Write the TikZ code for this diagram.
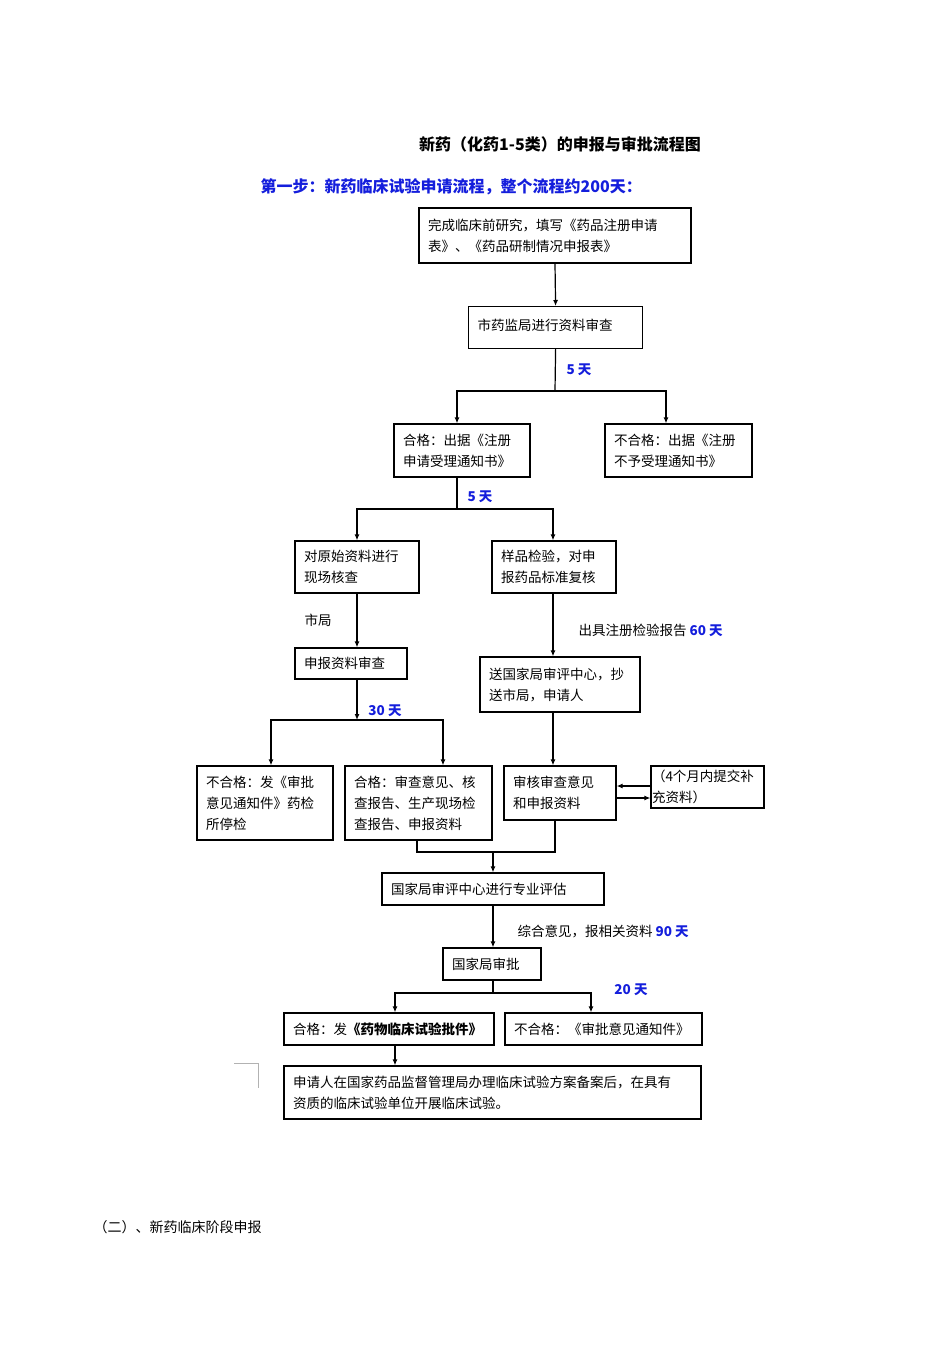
\documentclass[tikz,border=0pt]{standalone}
\usepackage{fontspec}
\setmainfont{Noto Sans CJK SC}
\usetikzlibrary{arrows.meta}
\definecolor{tblue}{RGB}{20,30,220}
\begin{document}
\begin{tikzpicture}[x=1pt,y=-1pt,
  box/.style={draw,line width=1.2pt,inner sep=0pt,inner xsep=9pt,align=left,font=\fontsize{13.5}{21}\selectfont},
  arr/.style={line width=1.2pt,-{Latex[length=6pt,width=5pt]}},
  ln/.style={line width=1.2pt},
  blab/.style={font=\fontsize{13.5}{15}\selectfont\bfseries,text=tblue},
  lab/.style={font=\fontsize{13.5}{15}\selectfont}]
\useasboundingbox (0,0) rectangle (950,1345);
\node[font=\fontsize{16}{18}\selectfont\bfseries] (title) at (560,144) {新药（化药1-5类）的申报与审批流程图};
\node[blab,font=\fontsize{16}{18}\selectfont\bfseries,anchor=west] (step) at (257,187) {第一步：新药临床试验申请流程，整个流程约200天：};
\node[lab,anchor=west,font=\fontsize{14}{15}\selectfont] (sec2) at (90,1227) {（二）、新药临床阶段申报};

\node[box,minimum width=272pt,minimum height=55pt,text width=254pt] (b1) at (555,235.5) {完成临床前研究，填写《药品注册申请\\表》、《药品研制情况申报表》};
\node[box,minimum width=174pt,minimum height=42pt,text width=156pt,anchor=north west] (b2) at (468,306) {\raisebox{6pt}{市药监局进行资料审查}};
\node[box,minimum width=136pt,minimum height=53pt,text width=118pt] (b3) at (462,450.5) {合格：出据《注册\\申请受理通知书》};
\node[box,minimum width=147pt,minimum height=53pt,text width=129pt] (b4) at (678.5,450.5) {不合格：出据《注册\\不予受理通知书》};
\node[box,minimum width=124pt,minimum height=52pt,text width=106pt] (b5) at (357,567) {对原始资料进行\\现场核查};
\node[box,minimum width=124pt,minimum height=52pt,text width=106pt] (b6) at (554,567) {样品检验，对申\\报药品标准复核};
\node[box,minimum width=112pt,minimum height=31pt,text width=94pt] (b7) at (351,663.5) {申报资料审查};
\node[box,minimum width=160pt,minimum height=55pt,text width=142pt] (b8) at (560,684.5) {送国家局审评中心，抄\\送市局，申请人};
\node[box,minimum width=136pt,minimum height=74pt,text width=118pt] (b9) at (265,803) {不合格：发《审批\\意见通知件》药检\\所停检};
\node[box,minimum width=147pt,minimum height=74pt,text width=129pt] (b10) at (418.5,803) {合格：审查意见、核\\查报告、生产现场检\\查报告、申报资料};
\node[box,minimum width=112pt,minimum height=54pt,text width=94pt] (b11) at (560,793) {审核审查意见\\和申报资料};
\node[box,minimum width=113pt,minimum height=42pt,text width=111pt,inner xsep=1pt] (b12) at (707.5,787) {（4个月内提交补\\充资料）};
\node[box,minimum width=222pt,minimum height=32pt,text width=204pt] (b13) at (493,889) {国家局审评中心进行专业评估};
\node[box,minimum width=98pt,minimum height=32pt,text width=80pt] (b14) at (492,964) {国家局审批};
\node[box,minimum width=210pt,minimum height=32pt,text width=192pt] (b15) at (389,1029) {合格：发\textbf{《药物临床试验批件》}};
\node[box,minimum width=197pt,minimum height=32pt,text width=179pt] (b16) at (603.5,1029) {不合格：《审批意见通知件》};
\node[box,minimum width=417pt,minimum height=53pt,text width=399pt] (b17) at (492.5,1092.5) {申请人在国家药品监督管理局办理临床试验方案备案后，在具有\\资质的临床试验单位开展临床试验。};

% connectors
\draw[arr] (b1.south) -- (b2.north);
\coordinate (j1) at (555,391);
\draw[ln] (b2.south) -- (j1);
\draw[arr] (j1) -| (457,0 |- b3.north);
\draw[arr] (j1) -| (666,0 |- b4.north);
\node[blab] (d1) at (579,370) {5 天};
\coordinate (j2) at (457,509);
\draw[ln] (457,0 |- b3.south) -- (j2);
\draw[arr] (j2) -| (b5.north);
\draw[arr] (j2) -| (553,0 |- b6.north);
\node[blab] (d2) at (480,497) {5 天};
\draw[arr] (b5.south) -- (357,0 |- b7.north);
\node[lab] (sj) at (318,620) {市局};
\draw[arr] (553,0 |- b6.south) -- (553,0 |- b8.north);
\node[lab,anchor=west] (r60) at (575,630) {出具注册检验报告 \textcolor{tblue}{\bfseries 60 天}};
\coordinate (j3) at (357,720);
\draw[arr] (357,0 |- b7.south) -- (j3);
\draw[arr] (j3) -| (271,0 |- b9.north);
\draw[arr] (j3) -| (443,0 |- b10.north);
\node[blab] (d3) at (385,711) {30 天};
\draw[arr] (553,0 |- b8.south) -- (553,0 |- b11.north);
\draw[arr] (b12.west |- 0,786) -- (b11.east |- 0,786);
\draw[arr] (b11.east |- 0,798) -- (b12.west |- 0,798);
\coordinate (j4) at (417,852);
\coordinate (j5) at (555,852);
\draw[ln] (417,0 |- b10.south) -- (j4) -- (j5) -- (555,0 |- b11.south);
\draw[arr] (493,852) -- (493,0 |- b13.north);
\draw[arr] (493,0 |- b13.south) -- (493,0 |- b14.north);
\node[lab,anchor=west] (r90) at (514,931) {综合意见，报相关资料 \textcolor{tblue}{\bfseries 90 天}};
\coordinate (j6) at (493,993);
\draw[ln] (493,0 |- b14.south) -- (j6);
\draw[arr] (j6) -| (395,0 |- b15.north);
\draw[arr] (j6) -| (591,0 |- b16.north);
\node[blab] (d4) at (631,990) {20 天};
\draw[arr] (395,0 |- b15.south) -- (395,0 |- b17.north);
\draw[gray!60,line width=0.8pt] (234,1063) -- (258,1063) -- (258,1088);
\end{tikzpicture}
\end{document}
